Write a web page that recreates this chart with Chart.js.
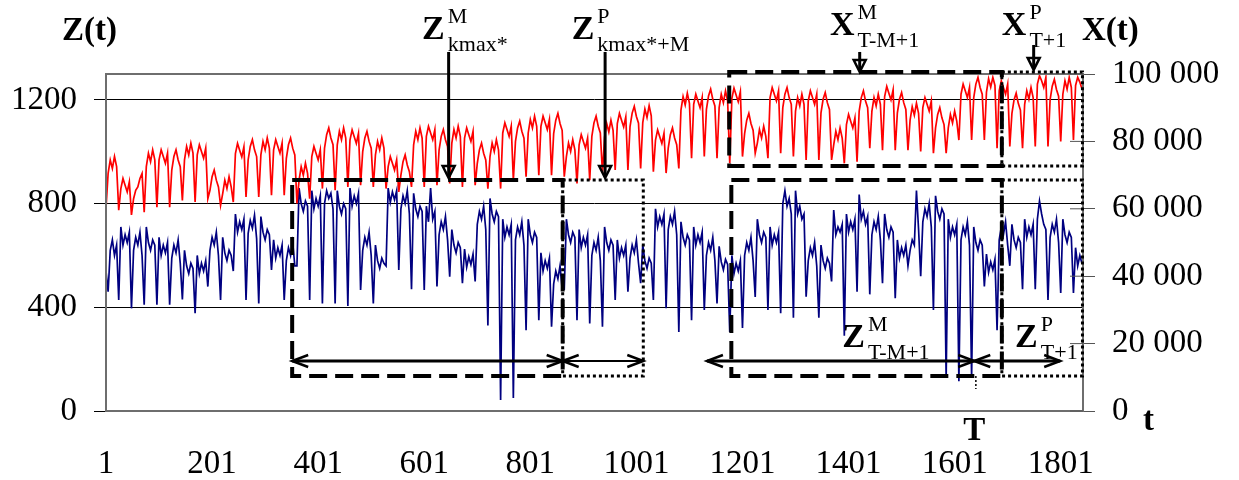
<!DOCTYPE html>
<html lang="en">
<head>
  <meta charset="UTF-8">
  <title>Z(t) and X(t)</title>
  <script src="https://cdn.jsdelivr.net/npm/chart.js"></script>
  <style>
    body { margin: 0; background: #fff; }
    #wrap { width: 1239px; height: 480px; }
  </style>
</head>
<body>
  <div id="wrap"><canvas id="chart" width="1239" height="480"></canvas></div>

  <script>
    // time index: one sample every 4 steps, t = 1 .. 1841
    const tStep = 4;

    // X(t), red, right axis
    const xValues = [
      60200, 70500, 74500, 72000, 75500, 72500,   59600, 66000, 69000, 67000, 65000, 68000,
      58200, 63000, 65500, 66500, 69000, 70500,   59000, 72500, 76500, 74000, 77500, 74500,
      60500, 74500, 77500, 75500, 73500, 76500,   60500, 71500, 75500, 77500, 74500, 72500,
      62500, 74500, 78500, 76000, 79500, 76500,   62000, 76000, 79000, 77000, 75000, 78000,
      63000, 65500, 69500, 71500, 68500, 66500,   61000, 64500, 68500, 66000, 69500, 66500,
      62000, 76400, 79400, 77400, 75400, 78400,   63500, 74500, 78500, 80500, 77500, 75500,
      63500, 76000, 80000, 77500, 81000, 78000,   64000, 77500, 80500, 78500, 76500, 79500,
      64000, 75000, 79000, 81000, 78000, 76000,   61600, 68500, 72500, 70000, 73500, 70500,
      63000, 75500, 78500, 76500, 74500, 77500,   66000, 78000, 82000, 84000, 81000, 79000,
      65500, 79000, 83000, 80500, 84000, 81000,   66500, 80400, 83400, 81400, 79400, 82400,
      67000, 77000, 81000, 83000, 80000, 78000,   66500, 76000, 80000, 77500, 81000, 78000,
      66000, 72500, 75500, 73500, 71500, 74500,   65000, 70000, 74000, 76000, 73000, 71000,
      66500, 79000, 83000, 80500, 84000, 81000,   66500, 81500, 84500, 82500, 80500, 83500,
      67000, 77500, 81500, 83500, 80500, 78500,   67500, 79500, 83500, 81000, 84500, 81500,
      66500, 81000, 84000, 82000, 80000, 83000,   67000, 73500, 77500, 79500, 76500, 74500,
      66000, 75500, 79500, 77000, 80500, 77500,   66000, 82500, 85500, 83500, 81500, 84500,
      68500, 80000, 84000, 86000, 83000, 81000,   69500, 82500, 86500, 84000, 87500, 84500,
      70000, 84500, 87500, 85500, 83500, 86500,   70000, 82300, 86300, 88300, 85300, 83300,
      69500, 75500, 79500, 77000, 80500, 77500,   67500, 79000, 82000, 80000, 78000, 81000,
      68500, 81500, 85500, 87500, 84500, 82500,   70600, 81300, 85300, 82800, 86300, 83300,
      71500, 85300, 88300, 86300, 84300, 87300,   71500, 84400, 88400, 90400, 87400, 85400,
      72000, 85600, 89600, 87100, 90600, 87600,   71000, 80400, 83400, 81400, 79400, 82400,
      70600, 78000, 82000, 84000, 81000, 79000,   72000, 89300, 93300, 90800, 94300, 91300,
      75000, 91000, 94000, 92000, 90000, 93000,   75500, 89500, 93500, 95500, 92500, 90500,
      75000, 90000, 94000, 91500, 95000, 92000,   73500, 92800, 95800, 93800, 91800, 94800,
      75500, 82300, 86300, 88300, 85300, 83300,   76500, 79500, 83500, 81000, 84500, 81500,
      75000, 93000, 96000, 94000, 92000, 95000,   76500, 90000, 94000, 96000, 93000, 91000,
      75500, 89000, 93000, 90500, 94000, 91000,   74500, 92000, 95000, 93000, 91000, 94000,
      74500, 88500, 92500, 94500, 91500, 89500,   74500, 79000, 83000, 80500, 84000, 81000,
      73500, 85000, 88000, 86000, 84000, 87000,   74000, 89000, 93000, 95000, 92000, 90000,
      78000, 89000, 93000, 90500, 94000, 91000,   77400, 93300, 96300, 94300, 92300, 95300,
      77400, 88500, 92500, 94500, 91500, 89500,   77400, 86300, 90300, 87800, 91300, 88300,
      77000, 90000, 93000, 91000, 89000, 92000,   76500, 84000, 88000, 90000, 87000, 85000,
      76500, 84000, 88000, 85500, 89000, 86000,   80400, 94000, 97000, 95000, 93000, 96000,
      80400, 93000, 97000, 99000, 96000, 94000,   80400, 94600, 98600, 96100, 99000, 96600,
      78000, 95000, 98000, 96000, 94000, 97000,   78500, 88300, 92300, 94300, 91300, 89300,
      78000, 91000, 95000, 92500, 96000, 93000,   78500, 97000, 99500, 98000, 96000, 99000,
      78500, 92400, 96400, 98400, 95400, 93400,   80000, 94000, 98000, 95500, 99000, 96000,
      80400, 96600, 99000, 97600, 95600
    ];

    // Z(t), blue, left axis
    const zValues = [
      540, 460, 620, 660, 600, 640,   428, 710, 640, 680, 650, 690,
      396, 620, 670, 640, 690, 600,   410, 710, 650, 620, 660, 640,
      410, 670, 600, 640, 610, 650,   410, 590, 640, 610, 660, 570,
      430, 620, 560, 530, 570, 550,   377, 600, 530, 570, 540, 580,
      480, 620, 670, 640, 690, 600,   428, 670, 610, 580, 620, 600,
      540, 760, 690, 730, 700, 740,   428, 685, 735, 705, 755, 665,
      415, 750, 690, 660, 700, 680,   544, 660, 590, 630, 600, 640,
      428, 580, 630, 600, 650, 560,   560, 860, 800, 770, 810, 790,
      428, 850, 780, 820, 790, 830,   415, 800, 850, 820, 840, 780,
      415, 850, 790, 760, 800, 780,   405, 860, 790, 830, 800, 840,
      467, 620, 670, 640, 690, 600,   415, 640, 580, 550, 590, 570,
      560, 860, 805, 845, 815, 850,   544, 780, 830, 800, 850, 760,
      470, 840, 780, 750, 790, 770,   467, 790, 730, 860, 740, 770,
      480, 680, 730, 700, 750, 660,   518, 700, 640, 610, 650, 630,
      493, 625, 555, 595, 565, 605,   500, 720, 770, 740, 790, 700,
      330, 820, 760, 730, 770, 750,    42, 740, 670, 710, 680, 720,
       50, 660, 710, 680, 730, 640,   312, 740, 680, 650, 690, 670,
      350, 610, 540, 580, 550, 590,   325, 490, 540, 510, 560, 470,
      470, 740, 680, 650, 690, 670,   350, 700, 630, 670, 640, 680,
      338, 600, 650, 620, 670, 580,   325, 710, 650, 620, 660, 640,
      428, 660, 590, 630, 600, 640,   460, 590, 640, 610, 660, 570,
      493, 640, 580, 550, 590, 570,   428, 780, 710, 750, 720, 760,
      396, 700, 750, 720, 770, 680,   305, 730, 670, 640, 680, 660,
      350, 710, 640, 680, 650, 690,   390, 600, 650, 620, 670, 580,
      415, 635, 575, 545, 585, 565,   305, 600, 530, 570, 540, 580,
      320, 600, 650, 620, 670, 580,   440, 740, 680, 650, 690, 670,
      390, 710, 640, 680, 650, 690,   377, 800, 850, 790, 820, 760,
      360, 850, 760, 790, 740, 760,   441, 580, 630, 600, 650, 560,
      360, 640, 580, 550, 590, 570,   500, 775, 680, 710, 690, 720,
      290, 760, 690, 730, 700, 740,   460, 835, 740, 770, 720, 750,
      450, 680, 730, 700, 750, 660,   493, 760, 700, 670, 710, 690,
      435, 660, 590, 630, 600, 640,   560, 620, 660, 640, 850, 700,
      520, 730, 780, 750, 800, 710,   390, 830, 770, 740, 780, 760,
      127, 740, 670, 710, 680, 720,   115, 660, 710, 680, 730, 640,
      127, 710, 650, 620, 660, 640,   480, 605, 535, 575, 545, 585,
      312, 660, 710, 680, 730, 640,   560, 720, 660, 630, 670, 650,
      470, 740, 670, 710, 680, 720,   470, 740, 810, 760, 720, 700,
      428, 670, 720, 690, 740, 650,   455, 740, 680, 650, 690, 670,
      455, 630, 560, 600, 570
    ];

    const xTicks = [1, 201, 401, 601, 801, 1001, 1201, 1401, 1601, 1801];
    const leftTicks = [0, 400, 800, 1200];
    const rightTicks = [0, 20000, 40000, 60000, 80000, 100000];
    const rightTickLabels = ['0', '20 000', '40 000', '60 000', '80 000', '100 000'];

    const tValues = [];
    for (let i = 0; i < xValues.length; i++) tValues.push(1 + i * tStep);

    // window markers (t, left-axis units)
    const T = 1638;
    const boxes = [
      { t0: 1176, t1: 1690, v0: 945, v1: 1308, style: 'dash' },
      { t0: 1690, t1: 1842, v0: 945, v1: 1308, style: 'dot' },
      { t0: 352, t1: 862, v0: 135, v1: 891, style: 'dash' },
      { t0: 862, t1: 1014, v0: 135, v1: 891, style: 'dot' },
      { t0: 1180, t1: 1690, v0: 135, v1: 891, style: 'dash' },
      { t0: 1690, t1: 1842, v0: 135, v1: 891, style: 'dot' }
    ];
    const spans = [
      { t0: 352, t1: 862, v: 193, w: 3 },
      { t0: 862, t1: 1014, v: 193, w: 2 },
      { t0: 1134, t1: T, v: 193, w: 3 },
      { t0: T, t1: 1800, v: 193, w: 3 }
    ];
    const pointers = [
      { t: 647, v0: 1385, v1: 895 },
      { t: 942, v0: 1385, v1: 895 },
      { t: 1422, v0: 1385, v1: 1304 },
      { t: 1750, v0: 1412, v1: 1312 }
    ];
    const symbols = [
      { t: 597, v: 1435, main: 'Z', sup: 'M', sub: 'kmax*' },
      { t: 879, v: 1435, main: 'Z', sup: 'P', sub: 'kmax*+M' },
      { t: 1366, v: 1450, main: 'X', sup: 'M', sub: 'T-M+1' },
      { t: 1690, v: 1450, main: 'X', sup: 'P', sub: 'T+1' },
      { t: 1389, v: 247, main: 'Z', sup: 'M', sub: 'T-M+1' },
      { t: 1715, v: 247, main: 'Z', sup: 'P', sub: 'T+1' }
    ];

    const serif = "'Liberation Serif', 'Times New Roman', serif";

    function chevron(ctx, x, y, dir, horizontal) {
      ctx.beginPath();
      if (horizontal) {
        ctx.moveTo(x - dir * 16, y - 6);
        ctx.lineTo(x, y);
        ctx.lineTo(x - dir * 16, y + 6);
      } else {
        ctx.moveTo(x - 6, y - dir * 12);
        ctx.lineTo(x, y);
        ctx.lineTo(x + 6, y - dir * 12);
        ctx.closePath();
      }
      ctx.stroke();
    }

    const markerPlugin = {
      id: 'markers',
      afterDraw(chart) {
        const ctx = chart.ctx;
        const a = chart.chartArea;
        const sx = chart.scales.x, sl = chart.scales.yL, sr = chart.scales.yR;
        ctx.save();

        // frame
        ctx.strokeStyle = '#6e6e6e';
        ctx.lineWidth = 2;
        ctx.strokeRect(a.left, a.top, a.right - a.left, a.bottom - a.top);

        // inner part of right-axis ticks
        ctx.lineWidth = 1;
        ctx.strokeStyle = '#555';
        rightTicks.forEach(v => {
          const y = sr.getPixelForValue(v);
          ctx.beginPath();
          ctx.moveTo(a.right - 13, y);
          ctx.lineTo(a.right, y);
          ctx.stroke();
        });

        ctx.strokeStyle = '#000';
        ctx.fillStyle = '#000';

        boxes.forEach(b => {
          const x0 = sx.getPixelForValue(b.t0), x1 = sx.getPixelForValue(b.t1);
          const y0 = sl.getPixelForValue(b.v1), y1 = sl.getPixelForValue(b.v0);
          if (b.style === 'dash') {
            ctx.lineWidth = 4;
            ctx.setLineDash([18, 8]);
          } else {
            ctx.lineWidth = 3;
            ctx.setLineDash([3, 3]);
          }
          ctx.strokeRect(x0, y0, x1 - x0, y1 - y0);
        });

        // short dotted mark under T
        ctx.lineWidth = 1.5;
        ctx.setLineDash([2, 2]);
        ctx.beginPath();
        ctx.moveTo(sx.getPixelForValue(1641), sl.getPixelForValue(135));
        ctx.lineTo(sx.getPixelForValue(1641), sl.getPixelForValue(85));
        ctx.stroke();
        ctx.setLineDash([]);

        spans.forEach(s => {
          const x0 = sx.getPixelForValue(s.t0), x1 = sx.getPixelForValue(s.t1);
          const y = sl.getPixelForValue(s.v);
          ctx.lineWidth = s.w;
          ctx.beginPath();
          ctx.moveTo(x0, y);
          ctx.lineTo(x1, y);
          ctx.stroke();
          ctx.lineWidth = 2.5;
          chevron(ctx, x0, y, -1, true);
          chevron(ctx, x1, y, 1, true);
        });

        pointers.forEach(p => {
          const x = sx.getPixelForValue(p.t);
          const y0 = sl.getPixelForValue(p.v0), y1 = sl.getPixelForValue(p.v1);
          ctx.lineWidth = 3;
          ctx.beginPath();
          ctx.moveTo(x, y0);
          ctx.lineTo(x, y1 - 2);
          ctx.stroke();
          ctx.lineWidth = 2.5;
          chevron(ctx, x, y1 - 1, 1, false);
        });

        ctx.textAlign = 'left';
        ctx.textBaseline = 'alphabetic';
        symbols.forEach(s => {
          const x = sx.getPixelForValue(s.t), y = sl.getPixelForValue(s.v);
          ctx.font = 'bold 34px ' + serif;
          ctx.fillText(s.main, x, y);
          const w = ctx.measureText(s.main).width + 3;
          ctx.font = '22px ' + serif;
          ctx.fillText(s.sup, x + w, y - 16);
          ctx.fillText(s.sub, x + w, y + 12);
        });

        ctx.font = 'bold 33px ' + serif;
        ctx.fillText('Z(t)', a.left - 44, a.top - 34);
        ctx.fillText('X(t)', a.right - 1, a.top - 34);
        ctx.fillText('t', a.right + 60, a.bottom + 19);
        ctx.textAlign = 'center';
        ctx.fillText('T', sx.getPixelForValue(T), a.bottom + 29);

        ctx.restore();
      }
    };

    const tickFont = { family: serif, size: 33 };

    new Chart(document.getElementById('chart'), {
      type: 'line',
      data: {
        datasets: [
          {
            label: 'X(t)',
            data: tValues.map((t, i) => ({ x: t, y: xValues[i] })),
            yAxisID: 'yR',
            borderColor: '#ff0000',
            borderWidth: 1.7,
            pointRadius: 0,
            tension: 0
          },
          {
            label: 'Z(t)',
            data: tValues.map((t, i) => ({ x: t, y: zValues[i] })),
            yAxisID: 'yL',
            borderColor: '#000080',
            borderWidth: 1.7,
            pointRadius: 0,
            tension: 0
          }
        ]
      },
      options: {
        responsive: false,
        animation: false,
        devicePixelRatio: 1,
        layout: { padding: { top: 74, left: 0, right: 0, bottom: 0 } },
        plugins: {
          legend: { display: false },
          tooltip: { enabled: false }
        },
        scales: {
          x: {
            type: 'linear',
            position: 'bottom',
            min: 1,
            max: 1843,
            grid: { display: false, drawTicks: false },
            border: { display: false },
            afterBuildTicks: s => { s.ticks = xTicks.map(v => ({ value: v })); },
            afterFit: s => { s.height = 69; },
            ticks: {
              autoSkip: false,
              maxRotation: 0,
              padding: 34,
              color: '#000',
              font: tickFont,
              callback: v => String(v)
            }
          },
          yL: {
            type: 'linear',
            position: 'left',
            min: 0,
            max: 1300,
            grid: { color: '#000', lineWidth: 1, tickLength: 12 },
            border: { display: false },
            afterBuildTicks: s => { s.ticks = leftTicks.map(v => ({ value: v })); },
            afterFit: s => { s.width = 106; },
            ticks: { padding: 17, color: '#000', font: tickFont, callback: v => String(v) }
          },
          yR: {
            type: 'linear',
            position: 'right',
            min: 0,
            max: 100000,
            grid: { drawOnChartArea: false, color: '#555', tickLength: 12 },
            border: { display: false },
            afterBuildTicks: s => { s.ticks = rightTicks.map(v => ({ value: v })); },
            afterFit: s => { s.width = 156; },
            ticks: {
              padding: 17,
              color: '#000',
              font: tickFont,
              callback: v => rightTickLabels[rightTicks.indexOf(v)]
            }
          }
        }
      },
      plugins: [markerPlugin]
    });
  </script>
</body>
</html>
